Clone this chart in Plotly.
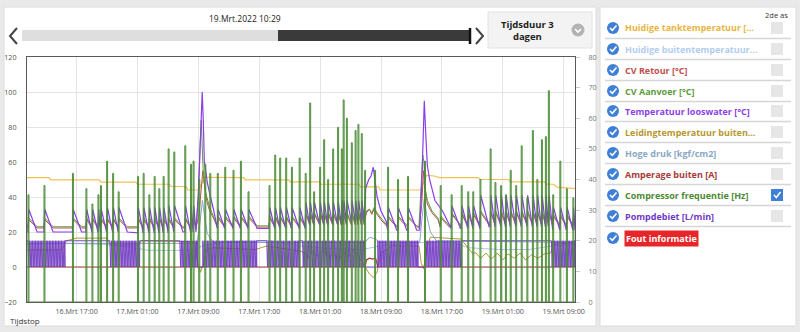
import pandas as pd
import plotly.graph_objects as go

# ---------------------------------------------------------------- time frame
START = pd.Timestamp("2022-03-16 10:29")
SPAN_H = 72  # "Tijdsduur 3 dagen"

tick_labels = ["16.Mrt 17:00", "17.Mrt 01:00", "17.Mrt 09:00", "17.Mrt 17:00",
               "18.Mrt 01:00", "18.Mrt 09:00", "18.Mrt 17:00", "19.Mrt 01:00",
               "19.Mrt 09:00"]
tick_times = ["2022-03-16 17:00", "2022-03-17 01:00", "2022-03-17 09:00",
              "2022-03-17 17:00", "2022-03-18 01:00", "2022-03-18 09:00",
              "2022-03-18 17:00", "2022-03-19 01:00", "2022-03-19 09:00"]

# ---------------------------------------------------------------- compressor
# start of each compressor run (hours after START) and its frequency [Hz]
comp_on_h = [0.13, 2.23, 5.97, 7.74, 8.53, 9.32, 9.65, 10.46, 11.25, 11.98,
             14.53, 15.26, 16.01, 16.71, 17.32, 17.89, 18.54, 19.29, 20.73, 21.48,
             21.82, 22.57, 23.36, 24.02, 25.00, 25.98, 27.07, 28.04, 29.04, 31.80,
             32.55, 33.20, 33.99, 34.74, 35.76, 36.55, 37.14, 37.66, 38.45, 38.98,
             39.50, 40.16, 40.81, 41.30, 41.54, 41.96, 42.61, 43.11, 43.48, 43.92,
             44.36, 45.67, 47.38, 48.69, 50.00, 52.23, 54.29, 55.73, 57.05, 57.91,
             58.57, 59.51, 60.85, 61.48, 62.23, 62.86, 63.49, 64.21, 64.93, 65.68,
             66.40, 66.99, 67.59, 68.11, 68.50, 69.07, 70.01, 70.87, 71.72]
comp_hz = [35, 38, 42, 37, 32, 35, 38, 46, 42, 36,
           41, 42, 35, 41, 37, 41, 50, 49, 51, 45,
           46, 40, 45, 42, 42, 44, 43, 46, 36, 38,
           48, 47, 47, 44, 47, 42, 65, 36, 44, 53,
           40, 50, 57, 50, 66, 60, 52, 56, 58, 55,
           43, 43, 44, 40, 41, 46, 38, 35, 38, 36,
           36, 40, 50, 39, 38, 35, 43, 38, 51, 34,
           56, 40, 53, 54, 69, 35, 46, 37, 34]
RUN_H = 0.13  # typical run length

# ---------------------------------------------------------------- slow series (hour, value)
tank_h = [0, 2.9, 3.1, 9.5, 9.7, 14.3, 14.5, 18.7, 18.9, 20.9, 21.1, 22.5, 23.0, 23.3,
          28.5, 28.7, 34.4, 34.6, 38.4, 38.6, 43.6, 43.8, 46.2, 46.4, 51.7, 52.2, 52.5,
          53.5, 54.2, 59.3, 59.5, 63.3, 63.5, 68.0, 68.2, 69.2, 69.6, 72]
tank_v = [51.1, 51.1, 49.8, 49.8, 48.5, 48.5, 47.3, 47.3, 46.0, 46.0, 44.0, 44.0, 48.0, 51.3,
          51.1, 49.8, 49.8, 48.6, 48.6, 47.3, 47.3, 45.8, 45.8, 44.0, 44.0, 50.0, 52.4,
          52.0, 51.1, 51.1, 50.0, 50.0, 48.6, 48.6, 47.3, 47.3, 45.6, 44.8]

buiten_h = [0, 5, 10, 14, 16, 22, 23, 26, 32, 36, 40, 44, 47, 52, 56, 58, 62, 66, 69, 72]
buiten_v = [13, 13.5, 13, 11, 9.5, 9.5, 12, 14.5, 15, 12, 10.5, 10, 12.5, 14, 14, 11, 10, 10, 12, 13]

druk_h = [0, 22.3, 22.7, 23.05, 23.3, 23.7, 24.5, 44.4, 45.0, 45.8, 46.3, 51.6, 51.9, 52.2, 52.5, 53.0, 53.8, 72]
druk_v = [13.5, 13.5, 24, 38, 30, 19, 14, 14, 17, 16, 14, 14, 28, 39, 30, 20, 15, 14]

leiding_h = [0, 4.5, 5.2, 6.5, 10.5, 11.0, 14.5, 15.0, 22.0, 22.4, 22.8, 23.2, 23.6, 24.5,
             30, 31.5, 36.0, 36.5, 37.0, 37.5, 38.2, 39.0, 39.6, 40.3, 41.0, 41.6, 42.3, 43.0,
             43.7, 44.4, 45.0, 45.5, 46.0, 46.5, 48.0, 51.5, 51.8, 52.1, 52.6, 53.0, 57.0,
             58.5, 59.0, 59.6, 60.3, 61.0, 61.8, 62.5, 63.2, 64.0, 64.8, 65.5, 66.3, 67.1,
             68.0, 68.8, 69.2, 72]
leiding_v = [9.7, 9.7, 15, 16.5, 16.5, 12.5, 12.5, 15, 14.5, 3, -3, 2, 10, 11,
             10, 12, 9, 8, 5, 9, 6, 10, 5, 8, 4, 9, 6, 10,
             5, 0, -4, -6, -3, 8, 12, 12, 2, -1, 12, 17, 16,
             8, 8, 5, 8, 4.5, 8, 4, 7.5, 5, 8, 4, 7, 5,
             7.5, 8, 13, 14]

amp_h = [0, 44.4, 44.6, 45.0, 45.4, 45.8, 46.1, 72]
amp_v = [0, 0, 4, 5, 4.5, 5, 0, 0]

# ---------------------------------------------------------------- water temperatures
# (from hour, level between runs, level right after a run start)
looswater_levels = [(0, 20, 33), (10, 20, 34), (14, 19.5, 34), (18, 20, 35), (24, 22, 33),
                    (31, 22, 34), (36, 24, 37), (41, 26, 38), (46, 21, 34), (53, 22, 35),
                    (59, 23, 41), (68.8, 21, 34)]
looswater_events = [
    [(22.2, 20.5), (22.5, 40), (22.8, 75), (23.02, 100), (23.15, 85), (23.3, 60), (23.45, 56),
     (23.7, 48), (24.0, 42), (24.5, 33)],
    [(44.3, 30), (44.5, 45), (44.9, 50), (45.2, 52), (45.5, 57), (45.7, 50), (46.0, 40),
     (46.5, 32), (47.2, 26)],
    [(51.6, 21), (51.85, 45), (52.05, 80), (52.2, 95), (52.4, 75), (52.6, 58), (52.9, 50),
     (53.6, 38), (54.6, 32)],
]

aanvoer_levels = [(0, 23, 28), (24.5, 23.5, 29), (36, 25, 31), (46, 23.5, 29), (55, 24, 31),
                  (59, 25, 32), (69, 24, 30)]
aanvoer_events = [
    [(22.2, 23), (22.5, 40), (22.75, 70), (22.9, 84), (23.05, 65), (23.2, 50), (23.5, 42),
     (24.0, 34), (24.5, 29)],
    [(44.3, 27), (44.6, 32), (45.0, 33), (45.3, 31), (45.6, 34), (46.0, 31), (46.5, 28)],
    [(51.5, 23), (51.8, 45), (52.0, 64), (52.15, 60), (52.3, 45), (52.6, 38), (53.2, 32),
     (54.0, 28)],
]

retour_levels = [(0, 22.3, 27), (24.5, 22.8, 28), (36, 24.2, 30), (46, 22.8, 28), (55, 23.2, 30),
                 (59, 24.2, 31), (69, 23.2, 29)]
retour_events = [
    [(22.2, 22), (22.6, 30), (22.9, 45), (23.1, 55), (23.3, 48), (23.6, 38), (24.0, 32),
     (24.5, 28)],
    [(44.3, 26), (44.6, 31), (45.0, 33), (45.3, 30), (45.6, 33), (46.0, 30), (46.5, 27)],
    [(51.5, 22), (51.85, 35), (52.1, 55), (52.3, 45), (52.6, 36), (53.2, 31), (54.0, 27)],
]

# ---------------------------------------------------------------- pump
PUMP_ON = 15          # L/min while running
PUMP_CYCLE_H = 0.2    # on/off cycle inside the pulsing periods
pump_pulsing = [(0.13, 4.99), (10.89, 14.83), (20.08, 22.4), (23.1, 30.18), (31.5, 35.83),
                (36.2, 44.36), (46.1, 51.35), (52.25, 57.09), (68.9, 71.92)]
pump_stopped = [(22.4, 23.1), (44.36, 46.1), (51.35, 52.25)]


# ---------------------------------------------------------------- helpers
def ts(hours):
    return [START + pd.Timedelta(hours=h) for h in hours]


def level_at(table, t):
    cur = table[0]
    for row in table:
        if row[0] <= t:
            cur = row
    return cur[1], cur[2]


def run_response(table, events, rise=0.1, settle=1.2):
    """Temperature trace: jump at every compressor start, then fall back."""
    windows = [(ev[0][0], ev[-1][0]) for ev in events]
    pts = [(0.0, level_at(table, 0)[0])]
    for i, t in enumerate(comp_on_h):
        if any(a <= t <= b for a, b in windows):
            continue
        base, peak = level_at(table, t)
        stops = [SPAN_H] + [comp_on_h[j] for j in range(i + 1, len(comp_on_h))]
        stops += [a for a, _ in windows if a > t]
        nxt = min(stops)
        pts += [(t, base), (t + rise, peak), (min(t + settle, nxt), base)]
    for ev in events:
        pts += ev
    pts.append((SPAN_H, level_at(table, SPAN_H)[0]))
    pts.sort()
    return [p[0] for p in pts], [p[1] for p in pts]


def compressor_trace():
    h, v = [0.0], [0.0]
    for t, hz in zip(comp_on_h, comp_hz):
        end = min(t + RUN_H, SPAN_H)
        h += [t, t, end, end]
        v += [0, hz, hz, 0]
    h.append(SPAN_H)
    v.append(0)
    return h, v


def pump_trace():
    marks = sorted([(a, b, "pulse") for a, b in pump_pulsing] + [(a, b, "stop") for a, b in pump_stopped])
    h, v = [0.0], [PUMP_ON]
    for a, b, kind in marks:
        if kind == "stop":
            h += [a, a, b, b]
            v += [PUMP_ON, 0, 0, PUMP_ON]
        else:
            t = a
            while t < b:
                h += [t, min(t + PUMP_CYCLE_H / 2, b)]
                v += [PUMP_ON, 0]
                t += PUMP_CYCLE_H
            h.append(b)
            v.append(PUMP_ON)
    h.append(SPAN_H)
    v.append(PUMP_ON)
    return h, v


# ---------------------------------------------------------------- colours
C_TANK = "#efc154"
C_BUITEN = "#a9c8ef"
C_RETOUR = "#c0504d"
C_AANVOER = "#5d9b3d"
C_LOOS = "#8b3fe8"
C_LEIDING = "#b8972f"
C_DRUK = "#86a7c9"
C_AMP = "#a33a3a"
C_COMP = "rgba(70,135,48,0.9)"
C_POMP = "#6d34c0"

fig = go.Figure()


def add_line(h, v, color, width=1.0, axis="y", **kw):
    fig.add_trace(go.Scatter(x=ts(h), y=v, mode="lines", yaxis=axis,
                             line=dict(color=color, width=width), hoverinfo="skip", **kw))


add_line(tank_h, tank_v, C_TANK, 1.2)
add_line(buiten_h, buiten_v, C_BUITEN)
lr_h, lr_v = run_response(retour_levels, retour_events)
add_line(lr_h, lr_v, C_RETOUR)
la_h, la_v = run_response(aanvoer_levels, aanvoer_events)
add_line(la_h, la_v, C_AANVOER)
lw_h, lw_v = run_response(looswater_levels, looswater_events)
add_line(lw_h, lw_v, C_LOOS, 1.2)
add_line(leiding_h, leiding_v, C_LEIDING)
add_line(druk_h, druk_v, C_DRUK)
add_line(amp_h, amp_v, C_AMP, 1.2)
pp_h, pp_v = pump_trace()
add_line(pp_h, pp_v, C_POMP, 1.0, opacity=0.9)
cp_h, cp_v = compressor_trace()
add_line(cp_h, cp_v, C_COMP, 1.0, axis="y2", fill="tozeroy", fillcolor="rgba(120,175,95,0.45)")

# ---------------------------------------------------------------- layout
L, R, T, B = 27, 575, 57, 302   # plot area in page pixels
W, H = 800, 332


def px(x):
    return (x - L) / (R - L)


def py(y):
    return (B - y) / (B - T)


FONT = "Open Sans, Noto Sans, sans-serif"
AXIS_FONT = dict(size=7.2, color="#555")

fig.update_layout(
    width=W, height=H,
    margin=dict(l=L, r=W - R, t=T, b=H - B, pad=0, autoexpand=False),
    paper_bgcolor="#e9e9e9", plot_bgcolor="white",
    showlegend=False,
    font=dict(family=FONT, size=8, color="#555"),
    xaxis=dict(type="date", range=[START, START + pd.Timedelta(hours=SPAN_H)], automargin=False,
               tickvals=tick_times, ticktext=tick_labels, tickfont=AXIS_FONT,
               showgrid=True, gridcolor="#e4e4e4", gridwidth=1, ticks="", ticklabelstandoff=2,
               showline=True, linecolor="#5a5a5a", linewidth=1, mirror=True, zeroline=False),
    yaxis=dict(range=[-20, 120], dtick=20, tickfont=AXIS_FONT, automargin=False,
               showgrid=True, gridcolor="#e4e4e4", zeroline=False, ticks="",
               ticklabelstandoff=8,
               showline=True, linecolor="#5a5a5a", linewidth=1, mirror=True),
    yaxis2=dict(range=[0, 80], dtick=10, overlaying="y", side="right", showgrid=False,
                zeroline=False, ticks="outside", ticklen=4, tickcolor="#c8c8c8", automargin=False,
                ticklabelstandoff=7,
                tickfont=dict(size=7.2, color="#777"), showline=False),
)

shapes = []
ann = []


def rect(x0, y0, x1, y1, fill, line=None, layer="above"):
    shapes.append(dict(type="rect", xref="paper", yref="paper", x0=px(x0), x1=px(x1),
                       y0=py(y1), y1=py(y0), fillcolor=fill, layer=layer,
                       line=dict(width=1 if line else 0, color=line or fill)))


def polyline(pts, color, width):
    d = "M " + " L ".join(f"{px(x):.5f},{py(y):.5f}" for x, y in pts)
    shapes.append(dict(type="path", xref="paper", yref="paper", path=d,
                       line=dict(color=color, width=width)))


def circle(cx, cy, r, fill):
    shapes.append(dict(type="circle", xref="paper", yref="paper", x0=px(cx - r), x1=px(cx + r),
                       y0=py(cy + r), y1=py(cy - r), fillcolor=fill, line=dict(width=0)))


def text(x, y, s, size=9, color="#222", xanchor="left", **kw):
    ann.append(dict(xref="paper", yref="paper", x=px(x), y=py(y), text=s, showarrow=False,
                    xanchor=xanchor, yanchor="middle", font=dict(family=FONT, size=size, color=color),
                    **kw))


# cards
rect(4, 7, 596, 326, "white", "#dcdcdc", layer="below")
rect(600, 7, 796, 326, "white", "#dcdcdc", layer="below")

# navigator above the chart
text(245, 19, "19.Mrt.2022 10:29", size=8.5, color="#222", xanchor="center")
rect(22, 30, 278, 41, "#dedede")
rect(278, 30, 469, 41, "#3a3a3a")
polyline([(470, 28), (470, 44)], "#111", 2.5)
polyline([(17, 28), (10, 36), (17, 44)], "#444", 2)
polyline([(476, 28), (483, 36), (476, 44)], "#444", 2)

# period selector
rect(488, 12, 592, 48, "#f3f3f3", "#e2e2e2")
text(527, 30, "<b>Tijdsduur 3</b><br><b>dagen</b>", size=9.5, color="#222", xanchor="center")
circle(578, 30, 6.5, "#b3b3b3")
polyline([(575, 29), (578, 32), (581, 29)], "white", 1.6)

text(8, 320, "Tijdstop", size=8, color="#333")

# series panel
text(776, 15, "2de as", size=7.5, color="#333", xanchor="center")
rows = [
    ("Huidige tanktemperatuur […", "#e8b53f", False),
    ("Huidige buitentemperatuur…", "#b3cdef", False),
    ("CV Retour [°C]", "#c0504d", False),
    ("CV Aanvoer [°C]", "#5d9b3d", False),
    ("Temperatuur looswater [°C]", "#8b3fe8", False),
    ("Leidingtemperatuur buiten…", "#b8972f", False),
    ("Hoge druk [kgf/cm2]", "#8aa7c6", False),
    ("Amperage buiten [A]", "#a83a3a", False),
    ("Compressor frequentie [Hz]", "#4c8a34", True),
    ("Pompdebiet [L/min]", "#7238c6", False),
]
row_y = [28, 49, 70, 91, 111, 132, 153, 174, 195, 216]
for (label, color, second), y in zip(rows, row_y):
    circle(613, y, 6, "#3f80d6")
    polyline([(610, y), (612.3, y + 2.3), (616.5, y - 2.5)], "white", 1.6)
    text(623, y, f"<b>{label}</b>", size=9, color=color)
    if second:
        rect(771, y - 6, 783, y + 6, "#3f80d6")
        polyline([(774, y), (776.3, y + 2.5), (780.5, y - 3)], "white", 1.6)
    else:
        rect(771, y - 6, 783, y + 6, "#e6e6e6")
    polyline([(605, y + 10.5), (791, y + 10.5)], "#d6d6d6", 1.5)

circle(613, 238, 6, "#3f80d6")
polyline([(610, 238), (612.3, 240.3), (616.5, 235.5)], "white", 1.6)
text(624, 238, "<b>Fout informatie</b>", size=9, color="white", bgcolor="#e8262a", borderpad=1)

fig.update_layout(shapes=shapes, annotations=ann)
fig.write_html("out.html", include_plotlyjs=True, config={"displayModeBar": False})
